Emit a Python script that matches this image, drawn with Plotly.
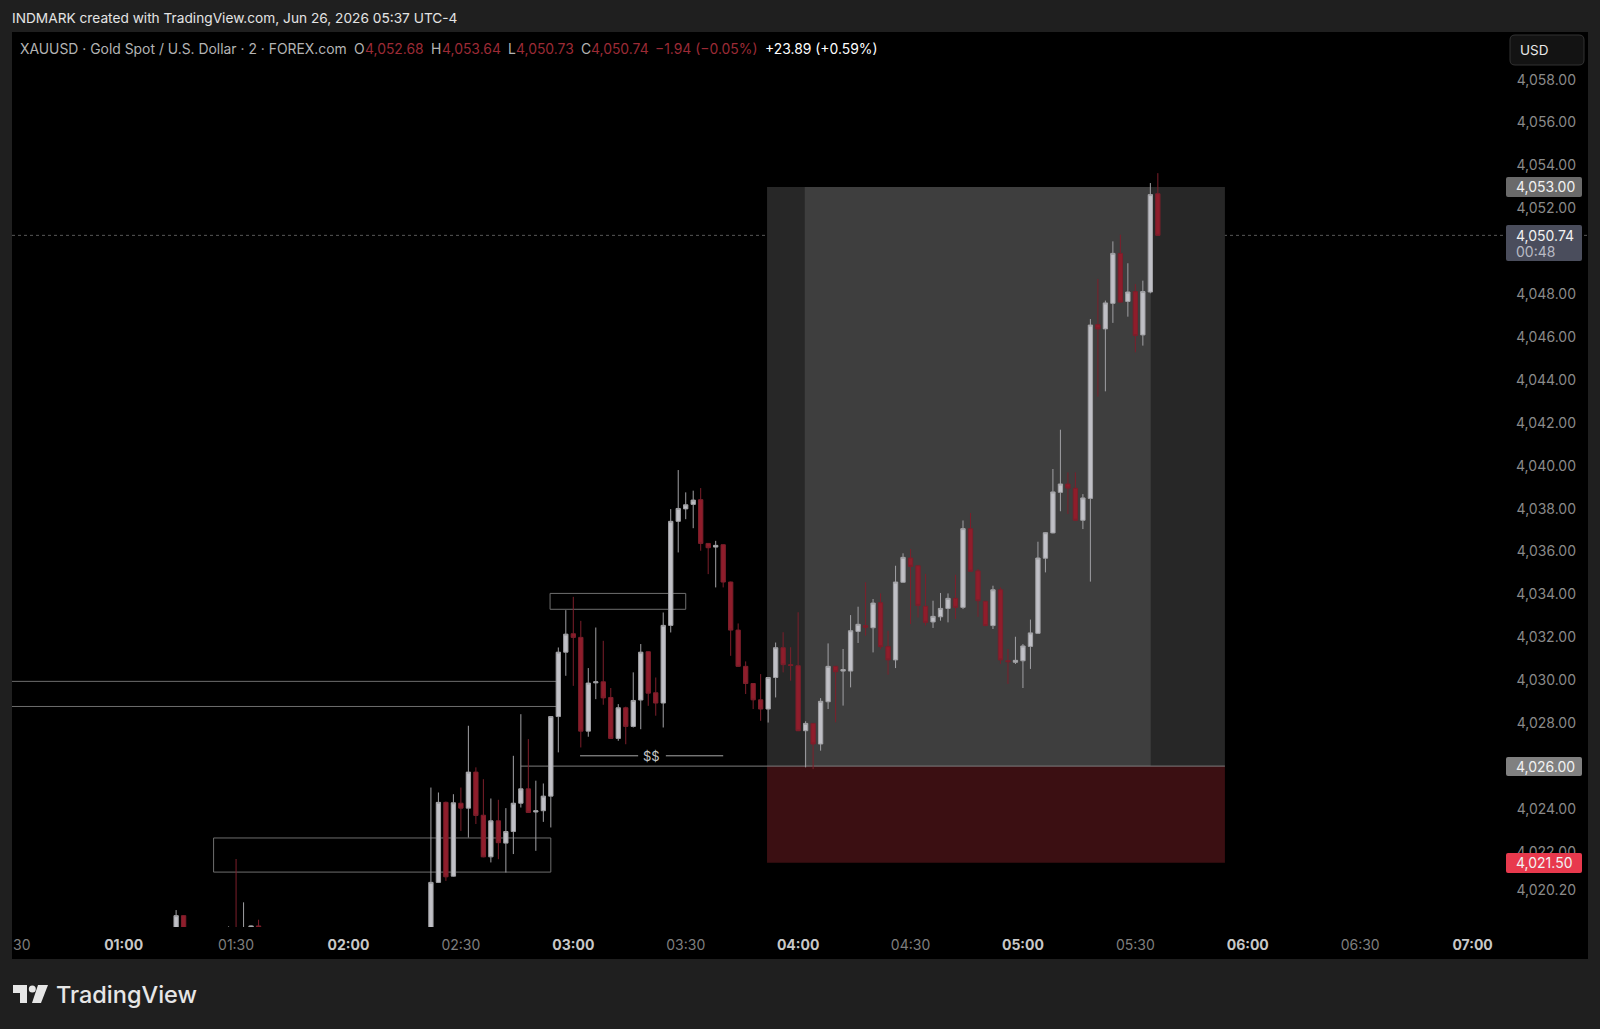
import pandas as pd
import plotly.graph_objects as go

# candles that poke up from under the bottom of the pane
early_times = ["01:14", "01:16", "01:28", "01:30", "01:32", "01:34", "01:36"]
early_open = [4018.20, 4019.03, 4018.20, 4018.30, 4018.20, 4018.44, 4018.55]
early_high = [4019.29, 4019.05, 4018.53, 4021.67, 4019.65, 4018.58, 4018.84]
early_low = [4018.00, 4018.00, 4018.00, 4018.10, 4018.00, 4018.30, 4018.30]
early_close = [4019.03, 4018.20, 4018.30, 4018.20, 4018.30, 4018.55, 4018.45]

# 2 minute candles from 02:22 to 05:36
opens = [4018.20, 4020.58, 4024.31, 4020.87, 4024.27, 4024.04, 4025.72, 4023.71, 4021.77, 4023.45,
         4022.41, 4022.95, 4024.27, 4024.94, 4023.86, 4023.92, 4024.60, 4028.31, 4031.31, 4032.17,
         4032.00, 4027.63, 4029.88, 4029.93, 4029.20, 4027.29, 4028.72, 4027.85, 4029.08, 4031.33,
         4029.42, 4028.94, 4032.56, 4037.41, 4037.99, 4038.20, 4038.42, 4036.38, 4036.21, 4036.32,
         4034.58, 4032.34, 4030.65, 4029.85, 4029.09, 4028.66, 4030.13, 4031.52, 4030.73, 4030.68,
         4027.65, 4027.99, 4027.03, 4029.00, 4030.65, 4030.43, 4030.43, 4032.28, 4032.55, 4032.45,
         4033.62, 4031.57, 4030.95, 4034.57, 4035.70, 4035.34, 4033.45, 4032.72, 4032.96, 4033.35,
         4033.82, 4033.40, 4037.07, 4035.10, 4033.68, 4032.55, 4034.22, 4030.91, 4030.84, 4030.91,
         4031.58, 4032.19, 4035.69, 4036.87, 4038.76, 4039.15, 4038.95, 4037.46, 4038.48, 4046.58,
         4046.38, 4047.57, 4049.90, 4047.66, 4048.12, 4046.10, 4048.10, 4052.68]
highs = [4025.00, 4024.77, 4024.35, 4024.69, 4025.00, 4027.88, 4025.94, 4025.39, 4024.49, 4024.43,
         4024.04, 4026.48, 4028.42, 4027.26, 4025.32, 4025.19, 4028.33, 4031.53, 4033.27, 4033.89,
         4032.77, 4030.57, 4032.46, 4031.84, 4029.64, 4028.89, 4028.77, 4030.37, 4031.69, 4031.35,
         4030.13, 4033.16, 4037.98, 4039.80, 4038.76, 4038.84, 4038.96, 4036.40, 4036.50, 4036.34,
         4034.60, 4032.65, 4030.88, 4029.87, 4030.29, 4030.15, 4031.76, 4032.24, 4031.54, 4033.17,
         4028.09, 4028.01, 4029.17, 4031.72, 4030.67, 4031.46, 4033.04, 4033.43, 4034.57, 4033.79,
         4034.05, 4032.31, 4035.34, 4035.92, 4036.12, 4035.36, 4034.96, 4033.71, 4034.07, 4034.05,
         4034.92, 4037.45, 4037.80, 4035.19, 4033.71, 4034.41, 4034.33, 4031.46, 4032.03, 4031.69,
         4032.83, 4036.46, 4036.90, 4039.85, 4041.68, 4039.69, 4039.69, 4038.68, 4046.84, 4048.71,
         4047.70, 4050.46, 4050.77, 4049.44, 4048.47, 4048.63, 4053.18, 4053.64]
lows = [4018.00, 4020.55, 4020.65, 4020.85, 4022.98, 4022.67, 4023.30, 4021.75, 4021.51, 4021.66,
        4021.04, 4021.90, 4024.07, 4023.82, 4022.05, 4023.40, 4023.14, 4026.64, 4030.21, 4029.74,
        4026.87, 4027.37, 4029.12, 4028.86, 4027.27, 4027.18, 4027.02, 4027.80, 4027.72, 4028.81,
        4028.35, 4027.80, 4032.23, 4035.96, 4037.51, 4037.09, 4036.04, 4034.95, 4034.33, 4034.33,
        4031.14, 4030.63, 4029.36, 4028.66, 4028.11, 4028.03, 4029.20, 4030.37, 4029.98, 4027.63,
        4025.94, 4025.86, 4026.72, 4028.66, 4028.04, 4028.82, 4029.67, 4031.74, 4032.08, 4031.30,
        4031.46, 4030.26, 4030.57, 4034.55, 4032.62, 4032.93, 4032.55, 4032.44, 4032.78, 4032.70,
        4032.86, 4033.32, 4035.06, 4032.96, 4032.53, 4032.39, 4030.76, 4029.83, 4030.76, 4029.64,
        4030.53, 4032.17, 4035.03, 4036.85, 4037.88, 4037.75, 4037.44, 4037.05, 4034.60, 4043.22,
        4043.47, 4046.66, 4047.60, 4046.95, 4045.29, 4045.60, 4048.04, 4050.73]
closes = [4020.58, 4024.31, 4020.84, 4024.29, 4024.04, 4025.72, 4023.70, 4021.77, 4023.45, 4022.43,
          4022.95, 4024.27, 4024.94, 4023.84, 4023.92, 4024.60, 4028.31, 4031.31, 4032.15, 4032.00,
          4027.63, 4029.87, 4029.93, 4029.18, 4027.29, 4028.72, 4027.85, 4029.06, 4031.31, 4029.40,
          4028.94, 4032.56, 4037.41, 4038.01, 4038.18, 4038.40, 4036.38, 4036.18, 4036.29, 4034.58,
          4032.34, 4030.65, 4029.85, 4029.09, 4028.66, 4030.13, 4031.52, 4030.73, 4030.69, 4027.65,
          4027.99, 4027.03, 4029.02, 4030.65, 4030.40, 4030.50, 4032.31, 4032.61, 4032.47, 4033.60,
          4031.57, 4030.95, 4034.58, 4035.73, 4035.31, 4033.49, 4032.70, 4032.98, 4033.35, 4033.82,
          4033.40, 4037.07, 4035.08, 4033.71, 4032.55, 4034.22, 4030.95, 4030.87, 4030.93, 4031.60,
          4032.21, 4035.70, 4036.88, 4038.78, 4039.15, 4038.96, 4037.46, 4038.50, 4046.56, 4046.38,
          4047.59, 4049.90, 4047.63, 4048.10, 4046.07, 4048.12, 4052.64, 4050.74]

# 4,050.00 sits behind the last price badge in the original, so it is left out
price_ticks = [4058, 4056, 4054, 4052, 4048, 4046, 4044, 4042, 4040, 4038, 4036, 4034, 4032,
               4030, 4028, 4026, 4024, 4022, 4020.2]
time_ticks = ["01:00", "01:30", "02:00", "02:30", "03:00", "03:30", "04:00", "04:30", "05:00",
              "05:30", "06:00", "06:30", "07:00"]

day = "2026-06-26 "
times = [day + t for t in early_times] + list(pd.date_range(day + "02:22", periods=len(opens), freq="2min"))

W, H = 1600, 1029
PL, PR, PT, PB = 12, 1588, 32, 927  # price pane in pixels
FONT = "Inter"


def fx(px):
    return (px - PL) / (PR - PL)


def fy(py):
    return (PB - py) / (PB - PT)


def t(s):
    return day + s


def rounded(x0, y0, x1, y1, r):
    return (f"M {fx(x0 + r)} {fy(y0)} L {fx(x1 - r)} {fy(y0)} Q {fx(x1)} {fy(y0)} {fx(x1)} {fy(y0 + r)} "
            f"L {fx(x1)} {fy(y1 - r)} Q {fx(x1)} {fy(y1)} {fx(x1 - r)} {fy(y1)} "
            f"L {fx(x0 + r)} {fy(y1)} Q {fx(x0)} {fy(y1)} {fx(x0)} {fy(y1 - r)} "
            f"L {fx(x0)} {fy(y0 + r)} Q {fx(x0)} {fy(y0)} {fx(x0 + r)} {fy(y0)} Z")


def poly(pts):
    return "M " + " L ".join(f"{fx(a)} {fy(b)}" for a, b in pts) + " Z"


fig = go.Figure(go.Candlestick(
    x=times,
    open=early_open + opens, high=early_high + highs, low=early_low + lows, close=early_close + closes,
    whiskerwidth=0,
    increasing=dict(line=dict(color="#a0a0a4", width=1), fillcolor="#c0c0c6"),
    decreasing=dict(line=dict(color="#7c1f2b", width=1), fillcolor="#8f1d2b"),
    showlegend=False, hoverinfo="skip",
))

shapes = []


def rect(x0, x1, y0, y1, fill=None, line=None):
    shapes.append(dict(type="rect", xref="x", yref="y", x0=t(x0), x1=t(x1), y0=y0, y1=y1, layer="below",
                       fillcolor=fill or "rgba(0,0,0,0)",
                       line=dict(color=line, width=1) if line else dict(width=0)))


def hline(x0, x1, y, color, width=1):
    shapes.append(dict(type="line", xref="x", yref="y", x0=t(x0), x1=t(x1), y0=y, y1=y, layer="below",
                       line=dict(color=color, width=width)))


def plate(y0, y1, fill):
    shapes.append(dict(type="path", xref="paper", yref="paper", path=rounded(1506, y0, 1582, y1, 2), layer="above",
                       fillcolor=fill, line=dict(width=0)))


# black background of the pane and time scale
shapes.append(dict(type="rect", xref="paper", yref="paper", x0=0, x1=1, y0=fy(959), y1=1, layer="below",
                   fillcolor="#000000", line=dict(width=0)))
# long position tool
rect("03:51:42", "05:53:54", 4026, 4053, fill="#272727")
rect("04:01:46", "05:34:06", 4026, 4053, fill="#3e3e3e")
rect("03:51:42", "05:53:54", 4021.5, 4026, fill="#3b0f12")
# drawn zones
rect("02:53:48", "03:30:00", 4033.31, 4034.05, line="#6e6e6e")
rect("01:24:00", "02:54:00", 4021.06, 4022.65, line="#6e6e6e")
hline("00:30:12", "02:56:00", 4029.95, "#6e6e6e")
hline("00:30:12", "02:56:00", 4028.78, "#6e6e6e")
hline("02:46:00", "05:53:54", 4026, "#7c7c7c")
hline("03:01:48", "03:17:18", 4026.48, "#a8a8a8")
hline("03:24:42", "03:40:00", 4026.48, "#a8a8a8")
# last price line
shapes.append(dict(type="line", xref="paper", yref="y", x0=0, x1=1, y0=closes[-1], y1=closes[-1], layer="below",
                   line=dict(color="#565656", width=1, dash="dot")))
# USD button
shapes.append(dict(type="path", xref="paper", yref="paper", path=rounded(1510, 35, 1584, 65, 5), layer="above",
                   fillcolor="#131313", line=dict(color="#333333", width=1)))
# scale badges, drawn over the axis labels
plate(177, 197, "#6a6a6a")
plate(225, 261, "#4a4d5c")
plate(757, 776, "#808080")
plate(853, 873, "#e8394d")
# TradingView mark
for pts in ([(13, 985), (27, 985), (27, 1003), (20, 1003), (20, 993), (13, 993)],
            [(38, 985), (48, 985), (41, 1003), (32, 1003)]):
    shapes.append(dict(type="path", xref="paper", yref="paper", path=poly(pts), layer="above",
                       fillcolor="#e6e6e6", line=dict(width=0)))
shapes.append(dict(type="circle", xref="paper", yref="paper", x0=fx(28.8), x1=fx(35.8), y0=fy(992.5), y1=fy(985.5),
                   layer="above", fillcolor="#e6e6e6", line=dict(width=0)))

ann = []


def label(px, py, text, color, size=13.9, anchor="left", **kw):
    ann.append(dict(xref="paper", yref="paper", x=fx(px), y=fy(py), text=text, showarrow=False,
                    xanchor=anchor, yanchor="middle", font=dict(family=FONT, size=size, color=color, **kw)))


label(10, 18, "INDMARK created with TradingView.com, Jun 26, 2026 05:37 UTC-4", "#e4e4e4", size=13.7)
label(17.5, 49.5, "XAUUSD · Gold Spot / U.S. Dollar · 2 · FOREX.com", "#b4b4b4")
for px, letter, value, vx in [(352, "O", "4,052.68", 363), (429, "H", "4,053.64", 440),
                              (506, "L", "4,050.73", 514), (579, "C", "4,050.74", 589)]:
    label(px, 49.5, letter, "#b4b4b4")
    label(vx, 49.5, value, "#9c2b36")
label(653, 49.5, "−1.94 (−0.05%)", "#9c2b36")
label(763, 49.5, "+23.89 (+0.59%)", "#ffffff")
label(1518, 50, "USD", "#e8e8e8", size=13.5)
label(10.5, 944, "30", "#7e7e7e", size=14)
label(54, 995, "TradingView", "#e6e6e6", size=23.5, weight=500)
label(1514, 186.5, "4,053.00", "#f2f2f2", size=14)
label(1514, 235, "4,050.74", "#f2f2f2", size=14)
label(1514, 251, "00:48", "#b8bac4", size=14)
label(1514, 766, "4,026.00", "#f2f2f2", size=14)
label(1514, 862.5, "4,021.50", "#f2f2f2", size=14)
# "$$" tag
ann.append(dict(xref="x", yref="y", x=t("03:20:50"), y=4026.48, text="$$", showarrow=False,
                font=dict(family=FONT, size=13, color="#c8c8c8")))

fig.update_layout(
    width=W, height=H,
    margin=dict(l=PL, r=W - PR, t=PT, b=H - PB),
    paper_bgcolor="#1f1f1f", plot_bgcolor="rgba(0,0,0,0)",
    boxgap=0.18,
    shapes=shapes, annotations=ann,
    xaxis=dict(
        type="date", range=[t("00:30:12"), t("07:30:48")], rangeslider=dict(visible=False),
        showgrid=False, zeroline=False, showline=False,
        tickmode="array",
        tickvals=[t(s) for s in time_ticks],
        ticktext=[f'<b><span style="color:#c8c8c8">{s}</span></b>' if s.endswith("00") else s for s in time_ticks],
        tickfont=dict(family=FONT, size=14, color="#7e7e7e"),
        ticks="outside", ticklen=5, tickcolor="rgba(0,0,0,0)",
    ),
    yaxis=dict(
        side="right", range=[4018.50, 4060.22],
        showgrid=False, zeroline=False, showline=False,
        tickmode="array", tickvals=price_ticks,
        ticktext=[f"{p:,.2f}" for p in price_ticks],
        tickfont=dict(family=FONT, size=14, color="#8a8a8a"),
        ticklabelposition="inside", ticks="", ticklabelstandoff=9,
    ),
)

fig.write_html("out.html", config={"displayModeBar": False},
               post_script="document.body.style.margin='0';")
